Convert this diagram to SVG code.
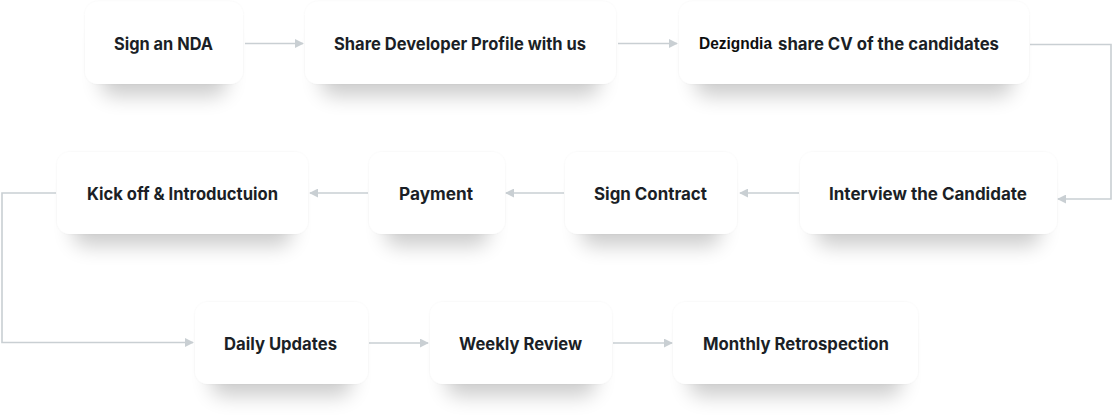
<svg xmlns="http://www.w3.org/2000/svg" width="1113" height="417" viewBox="0 0 1113 417">
  <defs>
    <filter id="shadow" x="-20%" y="-30%" width="140%" height="200%">
      <feMorphology in="SourceAlpha" operator="erode" radius="16 6" result="er"/>
      <feOffset in="er" dy="18" result="off"/>
      <feGaussianBlur in="off" stdDeviation="10" result="blur"/>
      <feComponentTransfer in="blur" result="sh">
        <feFuncA type="linear" slope="0.2"/>
      </feComponentTransfer>
      <feGaussianBlur in="SourceAlpha" stdDeviation="1.2" result="ring0"/>
      <feComponentTransfer in="ring0" result="ring">
        <feFuncA type="linear" slope="0.06"/>
      </feComponentTransfer>
      <feMerge>
        <feMergeNode in="sh"/>
        <feMergeNode in="ring"/>
        <feMergeNode in="SourceGraphic"/>
      </feMerge>
    </filter>
    <marker id="arrow" viewBox="0 0 10 10" refX="9" refY="5" markerWidth="9" markerHeight="9" markerUnits="userSpaceOnUse" orient="auto">
      <path d="M0,0 L10,5 L0,10 Z" fill="#c9cfd3"/>
    </marker>
  </defs>
  <style>
    .box { fill: #ffffff; filter: url(#shadow); }
    .lbl { font-family: "Inter", "Open Sans", "Liberation Sans", sans-serif; font-weight: 700; font-size: 17px; fill: #1b1f26; text-anchor: middle; }
    .brand { font-family: "Liberation Sans", Arial, sans-serif; font-weight: 700; font-size: 16px; fill: #0e0e0e; }
    .conn { fill: none; stroke: #c9cfd3; stroke-width: 1.6; marker-end: url(#arrow); }
  </style>
  <rect width="1113" height="417" fill="#ffffff"/>

  <g id="connectors">
    <path class="conn" d="M245,43.5 H303"/>
    <path class="conn" d="M618,43.5 H677"/>
    <path class="conn" d="M1030,44.5 H1111 V199 H1058"/>
    <path class="conn" d="M799,193 H740"/>
    <path class="conn" d="M564,193 H506"/>
    <path class="conn" d="M368,193 H310"/>
    <path class="conn" d="M56,193 H2 V342.5 H193"/>
    <path class="conn" d="M369,343 H428"/>
    <path class="conn" d="M613,343 H672"/>
  </g>

  <g id="node-nda">
    <rect class="box" x="85" y="1.5" width="158" height="82.5" rx="13"/>
    <text class="lbl" x="163.5" y="49.5" textLength="99" lengthAdjust="spacingAndGlyphs">Sign an NDA</text>
  </g>
  <g id="node-share-profile">
    <rect class="box" x="305" y="1.5" width="311" height="82.5" rx="13"/>
    <text class="lbl" x="460" y="49.5" textLength="252" lengthAdjust="spacingAndGlyphs">Share Developer Profile with us</text>
  </g>
  <g id="node-share-cv">
    <rect class="box" x="679" y="1.5" width="350" height="82.5" rx="13"/>
    <text class="brand" x="699" y="48.5" textLength="73" lengthAdjust="spacingAndGlyphs">Dezigndia</text>
    <text class="lbl" x="888.5" y="49.5" textLength="221" lengthAdjust="spacingAndGlyphs">share CV of the candidates</text>
  </g>
  <g id="node-interview">
    <rect class="box" x="800" y="152" width="257" height="82" rx="13"/>
    <text class="lbl" x="928" y="199.5" textLength="198" lengthAdjust="spacingAndGlyphs">Interview the Candidate</text>
  </g>
  <g id="node-contract">
    <rect class="box" x="565" y="152" width="172" height="82" rx="13"/>
    <text class="lbl" x="650.5" y="199.5" textLength="113" lengthAdjust="spacingAndGlyphs">Sign Contract</text>
  </g>
  <g id="node-payment">
    <rect class="box" x="369" y="152" width="136" height="82" rx="13"/>
    <text class="lbl" x="436" y="199.5" textLength="74" lengthAdjust="spacingAndGlyphs">Payment</text>
  </g>
  <g id="node-kickoff">
    <rect class="box" x="57" y="152" width="251" height="82" rx="13"/>
    <text class="lbl" x="182.5" y="199.5" textLength="191" lengthAdjust="spacingAndGlyphs">Kick off &amp; Introductuion</text>
  </g>
  <g id="node-daily">
    <rect class="box" x="195" y="302" width="173" height="82" rx="13"/>
    <text class="lbl" x="280.5" y="349.5" textLength="113" lengthAdjust="spacingAndGlyphs">Daily Updates</text>
  </g>
  <g id="node-weekly">
    <rect class="box" x="430" y="302" width="182" height="82" rx="13"/>
    <text class="lbl" x="520.5" y="349.5" textLength="123" lengthAdjust="spacingAndGlyphs">Weekly Review</text>
  </g>
  <g id="node-monthly">
    <rect class="box" x="673" y="302" width="245" height="82" rx="13"/>
    <text class="lbl" x="796" y="349.5" textLength="186" lengthAdjust="spacingAndGlyphs">Monthly Retrospection</text>
  </g>
</svg>
